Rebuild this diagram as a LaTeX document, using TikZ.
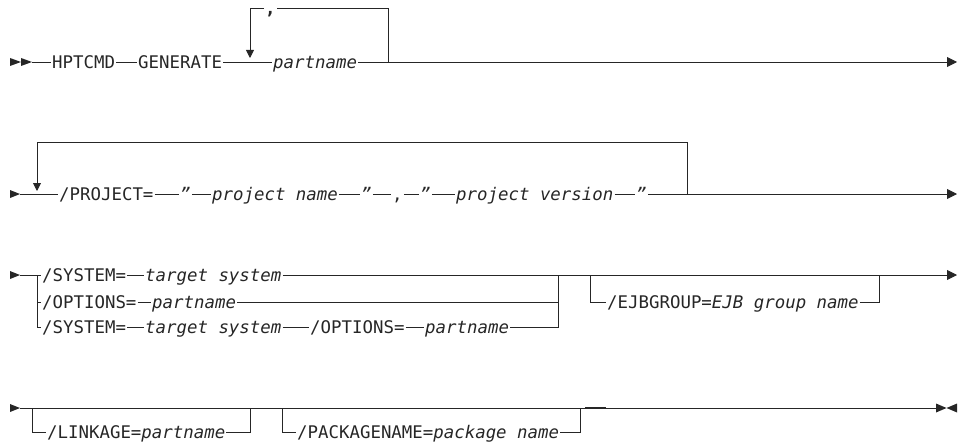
\documentclass[tikz,border=0pt]{standalone}
\usepackage{fontspec}
\setmainfont{DejaVu Sans Mono}
\usetikzlibrary{arrows.meta}
\begin{document}
\begin{tikzpicture}[x=1pt,y=-1pt,
  every node/.style={inner xsep=1pt, inner ysep=0pt, text height=13pt, text depth=0pt,
    anchor=west, font=\fontsize{17.4}{20}\selectfont, text=black!85},
  var/.style={font=\fontsize{17.4}{20}\selectfont\itshape},
  ln/.style={line width=0.9pt, draw=black!85},
  endarrow/.style={-{Triangle[length=10pt,width=10pt]}},
  looparrow/.style={-{Triangle[length=8pt,width=8pt]}}]
\useasboundingbox (0,0) rectangle (962,444);

% ---------- Row 1 ----------
\fill[black!85] (10,58) -- (21,62) -- (10,66) -- cycle;
\fill[black!85] (21,58) -- (32,62) -- (21,66) -- cycle;
\coordinate (s1) at (32,62);
\node (hpt) at (51,62) {HPTCMD};
\node (gen) at (137,62) {GENERATE};
\node[var] (pn1) at (272,62) {partname};
\coordinate (l1a) at (250,58);
\coordinate (l1t) at (250,8);
\coordinate (r1) at (388,62);
\coordinate (r1t) at (388,8);
\node[font=\fontsize{17.4}{20}\selectfont\bfseries] (cm1) at (264,8) {,};
\coordinate (e1) at (957,62);
\draw[ln] (s1) -- (hpt);
\draw[ln] (hpt) -- (gen);
\draw[ln] (gen) -- (pn1);
\draw[ln,endarrow] (pn1) -- (e1);
\draw[ln] (r1) -- (r1t) -- (cm1.east);
\draw[ln,looparrow] (cm1.west) -- (l1t) -- (l1a);

% ---------- Row 2 ----------
\fill[black!85] (10,190) -- (20,194) -- (10,198) -- cycle;
\coordinate (s2) at (20,194);
\node (proj) at (58,194) {/PROJECT=};
\node[var] (q1) at (179,194) {"};
\node[var] (pnm) at (211,194) {project name};
\node[var] (q2) at (360,194) {"};
\node (cm2) at (391,194) {,};
\node[var] (q3) at (419,194) {"};
\node[var] (pver) at (455,194) {project version};
\node[var] (q4) at (635,194) {"};
\coordinate (l2a) at (37,191);
\coordinate (l2t) at (37,142);
\coordinate (r2) at (687,194);
\coordinate (r2t) at (687,142);
\coordinate (e2) at (957,194);
\draw[ln] (s2) -- (proj);
\draw[ln] (proj) -- (q1);
\draw[ln] (q1) -- (pnm);
\draw[ln] (pnm) -- (q2);
\draw[ln] (q2) -- (cm2);
\draw[ln] (cm2) -- (q3);
\draw[ln] (q3) -- (pver);
\draw[ln] (pver) -- (q4);
\draw[ln,endarrow] (q4) -- (e2);
\draw[ln,looparrow] (r2) -- (r2t) -- (l2t) -- (l2a);

% ---------- Row 3 ----------
\fill[black!85] (10,271) -- (20,275) -- (10,279) -- cycle;
\coordinate (s3) at (20,275);
\coordinate (l3) at (37,275);
\coordinate (l3b) at (37,302);
\coordinate (l3c) at (37,327);
\node (sys1) at (41,275) {/SYSTEM=};
\node[var] (ts1) at (144,275) {target system};
\node (opt2) at (41,302) {/OPTIONS=};
\node[var] (pn2) at (151,302) {partname};
\node (sys3) at (41,327) {/SYSTEM=};
\node[var] (ts3) at (144,327) {target system};
\node (opt3) at (309,327) {/OPTIONS=};
\node[var] (pn3) at (424,327) {partname};
\coordinate (r3) at (558,275);
\coordinate (r3b) at (558,302);
\coordinate (r3c) at (558,327);
\draw[ln] (s3) -- (sys1);
\draw[ln] (l3) -- (l3c) -- (sys3);
\draw[ln] (l3b) -- (opt2);
\draw[ln] (sys1) -- (ts1);
\draw[ln] (ts1) -- (r3);
\draw[ln] (opt2) -- (pn2);
\draw[ln] (pn2) -- (r3b);
\draw[ln] (sys3) -- (ts3);
\draw[ln] (ts3) -- (opt3);
\draw[ln] (opt3) -- (pn3);
\draw[ln] (pn3) -- (r3c) -- (r3);
\coordinate (ej1) at (590,275);
\coordinate (ej1b) at (590,302);
\node (ejb) at (606,302) {/EJBGROUP=\textit{EJB group name}};
\coordinate (ej2b) at (879,302);
\coordinate (ej2) at (879,275);
\coordinate (e3) at (957,275);
\draw[ln,endarrow] (r3) -- (e3);
\draw[ln] (ej1) -- (ej1b) -- (ejb);
\draw[ln] (ejb) -- (ej2b) -- (ej2);

% ---------- Row 4 ----------
\fill[black!85] (10,404) -- (20,408) -- (10,412) -- cycle;
\coordinate (s4) at (20,408);
\coordinate (lk1) at (32,408);
\coordinate (lk1b) at (32,432);
\node (lk) at (46,432) {/LINKAGE=\textit{partname}};
\coordinate (lk2b) at (250,432);
\coordinate (lk2) at (250,408);
\coordinate (pk1) at (282,408);
\coordinate (pk1b) at (282,432);
\node (pk) at (296,432) {/PACKAGENAME=\textit{package name}};
\coordinate (pk2b) at (580,432);
\coordinate (pk2) at (580,408);
\coordinate (e4) at (936,408);
\draw[ln] (s4) -- (e4);
\draw[ln] (lk1) -- (lk1b) -- (lk);
\draw[ln] (lk) -- (lk2b) -- (lk2);
\draw[ln] (pk1) -- (pk1b) -- (pk);
\draw[ln] (pk) -- (pk2b) -- (pk2);
\coordinate (art1) at (585,407.2);
\coordinate (art2) at (606,407.2);
\draw[line width=1.1pt, black!85] (art1) -- (art2);
\fill[black!85] (936,403.5) -- (946.5,408) -- (936,412.5) -- cycle;
\fill[black!85] (957,403.5) -- (946.5,408) -- (957,412.5) -- cycle;
\end{tikzpicture}
\end{document}
